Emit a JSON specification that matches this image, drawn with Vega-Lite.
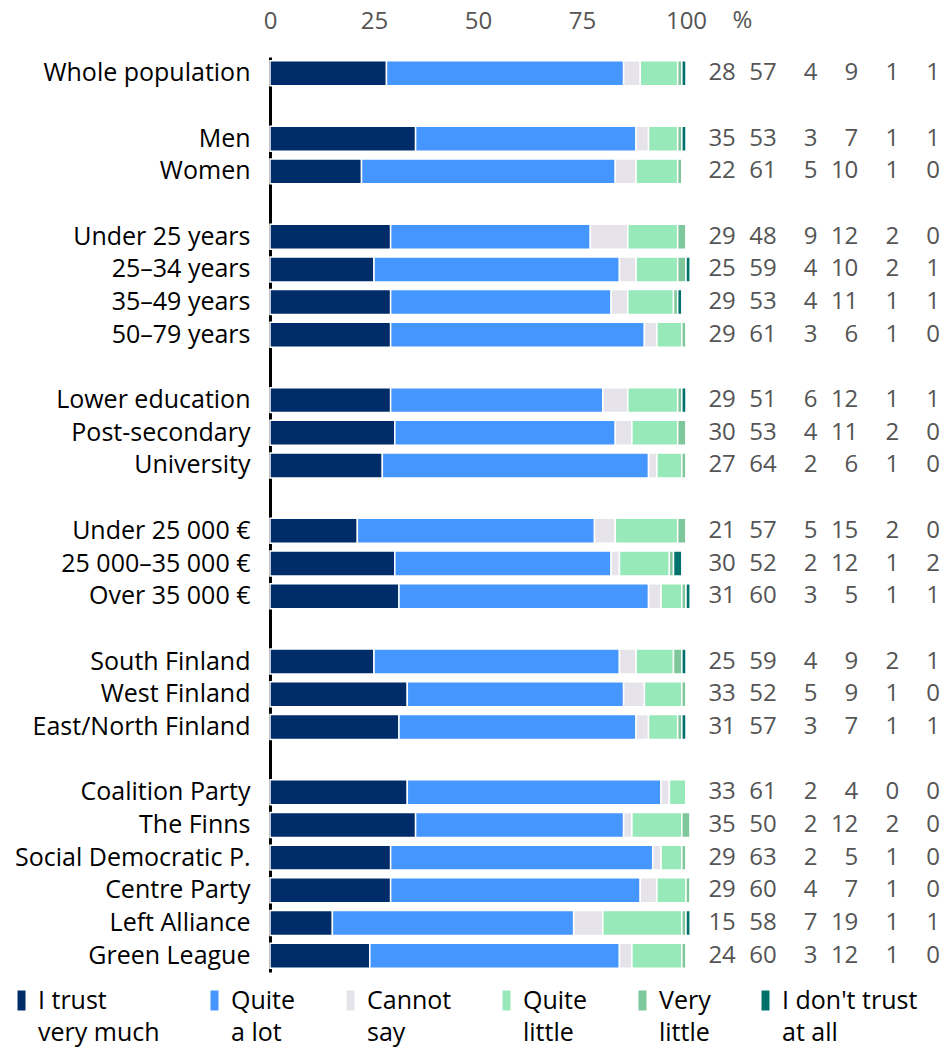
{
  "$schema": "https://vega.github.io/schema/vega-lite/v6.json",
  "background": "white",
  "padding": {"left": 9, "top": 8, "right": 5, "bottom": 5},
  "bounds": "flush",
  "data": {"values": [
    {"group": "Whole population", "I trust very much": 28, "Quite a lot": 57, "Cannot say": 4, "Quite little": 9, "Very little": 1, "Not at all": 1},
    {"group": "Men", "I trust very much": 35, "Quite a lot": 53, "Cannot say": 3, "Quite little": 7, "Very little": 1, "Not at all": 1},
    {"group": "Women", "I trust very much": 22, "Quite a lot": 61, "Cannot say": 5, "Quite little": 10, "Very little": 1, "Not at all": 0},
    {"group": "Under 25 years", "I trust very much": 29, "Quite a lot": 48, "Cannot say": 9, "Quite little": 12, "Very little": 2, "Not at all": 0},
    {"group": "25–34 years", "I trust very much": 25, "Quite a lot": 59, "Cannot say": 4, "Quite little": 10, "Very little": 2, "Not at all": 1},
    {"group": "35–49 years", "I trust very much": 29, "Quite a lot": 53, "Cannot say": 4, "Quite little": 11, "Very little": 1, "Not at all": 1},
    {"group": "50–79 years", "I trust very much": 29, "Quite a lot": 61, "Cannot say": 3, "Quite little": 6, "Very little": 1, "Not at all": 0},
    {"group": "Lower education", "I trust very much": 29, "Quite a lot": 51, "Cannot say": 6, "Quite little": 12, "Very little": 1, "Not at all": 1},
    {"group": "Post-secondary", "I trust very much": 30, "Quite a lot": 53, "Cannot say": 4, "Quite little": 11, "Very little": 2, "Not at all": 0},
    {"group": "University", "I trust very much": 27, "Quite a lot": 64, "Cannot say": 2, "Quite little": 6, "Very little": 1, "Not at all": 0},
    {"group": "Under 25 000 €", "I trust very much": 21, "Quite a lot": 57, "Cannot say": 5, "Quite little": 15, "Very little": 2, "Not at all": 0},
    {"group": "25 000–35 000 €", "I trust very much": 30, "Quite a lot": 52, "Cannot say": 2, "Quite little": 12, "Very little": 1, "Not at all": 2},
    {"group": "Over 35 000 €", "I trust very much": 31, "Quite a lot": 60, "Cannot say": 3, "Quite little": 5, "Very little": 1, "Not at all": 1},
    {"group": "South Finland", "I trust very much": 25, "Quite a lot": 59, "Cannot say": 4, "Quite little": 9, "Very little": 2, "Not at all": 1},
    {"group": "West Finland", "I trust very much": 33, "Quite a lot": 52, "Cannot say": 5, "Quite little": 9, "Very little": 1, "Not at all": 0},
    {"group": "East/North Finland", "I trust very much": 31, "Quite a lot": 57, "Cannot say": 3, "Quite little": 7, "Very little": 1, "Not at all": 1},
    {"group": "Coalition Party", "I trust very much": 33, "Quite a lot": 61, "Cannot say": 2, "Quite little": 4, "Very little": 0, "Not at all": 0},
    {"group": "The Finns", "I trust very much": 35, "Quite a lot": 50, "Cannot say": 2, "Quite little": 12, "Very little": 2, "Not at all": 0},
    {"group": "Social Democratic P.", "I trust very much": 29, "Quite a lot": 63, "Cannot say": 2, "Quite little": 5, "Very little": 1, "Not at all": 0},
    {"group": "Centre Party", "I trust very much": 29, "Quite a lot": 60, "Cannot say": 4, "Quite little": 7, "Very little": 1, "Not at all": 0},
    {"group": "Left Alliance", "I trust very much": 15, "Quite a lot": 58, "Cannot say": 7, "Quite little": 19, "Very little": 1, "Not at all": 1},
    {"group": "Green League", "I trust very much": 24, "Quite a lot": 60, "Cannot say": 3, "Quite little": 12, "Very little": 1, "Not at all": 0}
  ]},
  "spacing": 9,
  "hconcat": [
    {
      "width": 416,
      "height": 915,
      "transform": [
        {"fold": ["I trust very much", "Quite a lot", "Cannot say", "Quite little", "Very little", "Not at all"], "as": ["answer", "value"]},
        {"calculate": "indexof(['I trust very much', 'Quite a lot', 'Cannot say', 'Quite little', 'Very little', 'Not at all'], datum.answer)", "as": "answerOrder"}
      ],
      "mark": {"type": "bar", "stroke": "white", "strokeWidth": 1.5},
      "encoding": {
        "y": {
          "field": "group", "type": "nominal",
          "scale": {"domain": ["Whole population", " ", "Men", "Women", "  ", "Under 25 years", "25–34 years", "35–49 years", "50–79 years", "   ", "Lower education", "Post-secondary", "University", "    ", "Under 25 000 €", "25 000–35 000 €", "Over 35 000 €", "     ", "South Finland", "West Finland", "East/North Finland", "      ", "Coalition Party", "The Finns", "Social Democratic P.", "Centre Party", "Left Alliance", "Green League"], "paddingInner": 0.235, "paddingOuter": 0.1175},
          "axis": {"title": null, "ticks": false, "grid": false, "domain": true, "domainColor": "black", "domainWidth": 3, "labelFont": "Open Sans", "labelFontSize": 25, "labelColor": "black", "labelPadding": 20, "labelLimit": 400}
        },
        "x": {
          "field": "value", "type": "quantitative", "stack": "zero",
          "scale": {"domain": [0, 100], "nice": false, "zero": true},
          "axis": {"orient": "top", "values": [0, 25, 50, 75, 100], "ticks": false, "domain": false, "grid": false, "labelFont": "Open Sans", "labelFontSize": 24, "labelColor": "#555555", "labelPadding": 24, "labelFlush": false, "labelOverlap": false,
            "title": "%", "titleFont": "Open Sans", "titleFontSize": 24, "titleFontWeight": "normal", "titleColor": "#555555", "titleX": 472, "titleY": -30, "titleBaseline": "alphabetic", "titleAlign": "center"}
        },
        "order": {"field": "answerOrder", "type": "quantitative"},
        "color": {
          "field": "answer", "type": "nominal",
          "sort": ["I trust very much", "Quite a lot", "Cannot say", "Quite little", "Very little", "Not at all"],
          "scale": {"domain": ["I trust very much", "Quite a lot", "Cannot say", "Quite little", "Very little", "Not at all"], "range": ["#002d6a", "#4696ff", "#e6e4ea", "#98e9b9", "#7dc79a", "#00726c"]},
          "legend": {
            "title": null, "orient": "none", "direction": "horizontal", "columns": 6, "gridAlign": "none", "columnPadding": 42,
            "legendX": -261, "legendY": 931,
            "symbolType": "M-0.4,-1L0.4,-1L0.4,1L-0.4,1Z", "symbolSize": 400, "symbolStrokeWidth": 0,
            "labelFont": "Open Sans", "labelFontSize": 25, "labelColor": "black", "labelOffset": 4, "labelLimit": 300,
            "labelExpr": "datum.label == 'I trust very much' ? ['I trust', 'very much'] : datum.label == 'Quite a lot' ? ['Quite', 'a lot'] : datum.label == 'Cannot say' ? ['Cannot', 'say'] : datum.label == 'Quite little' ? ['Quite', 'little'] : datum.label == 'Very little' ? ['Very', 'little'] : [\"I don't trust\", 'at all']",
            "encode": {"labels": {"enter": {"lineHeight": {"value": 32}}, "update": {"lineHeight": {"value": 32}}}}
          }
        }
      }
    },
    {
      "width": 245,
      "height": 915,
      "transform": [{"fold": ["I trust very much", "Quite a lot", "Cannot say", "Quite little", "Very little", "Not at all"], "as": ["answer", "value"]}],
      "mark": {"type": "text", "align": "right", "baseline": "middle", "font": "Open Sans", "fontSize": 24, "color": "#555555"},
      "encoding": {
        "y": {
          "field": "group", "type": "nominal",
          "scale": {"domain": ["Whole population", " ", "Men", "Women", "  ", "Under 25 years", "25–34 years", "35–49 years", "50–79 years", "   ", "Lower education", "Post-secondary", "University", "    ", "Under 25 000 €", "25 000–35 000 €", "Over 35 000 €", "     ", "South Finland", "West Finland", "East/North Finland", "      ", "Coalition Party", "The Finns", "Social Democratic P.", "Centre Party", "Left Alliance", "Green League"], "paddingInner": 0.235, "paddingOuter": 0.1175},
          "axis": null
        },
        "x": {
          "field": "answer", "type": "nominal", "bandPosition": 1,
          "scale": {"type": "band", "domain": ["I trust very much", "Quite a lot", "Cannot say", "Quite little", "Very little", "Not at all"], "paddingInner": 0, "paddingOuter": 0},
          "axis": null
        },
        "text": {"field": "value", "type": "quantitative"}
      }
    }
  ],
  "config": {"view": {"stroke": null}, "style": {"guide-label": {"lineHeight": 32}}}
}
